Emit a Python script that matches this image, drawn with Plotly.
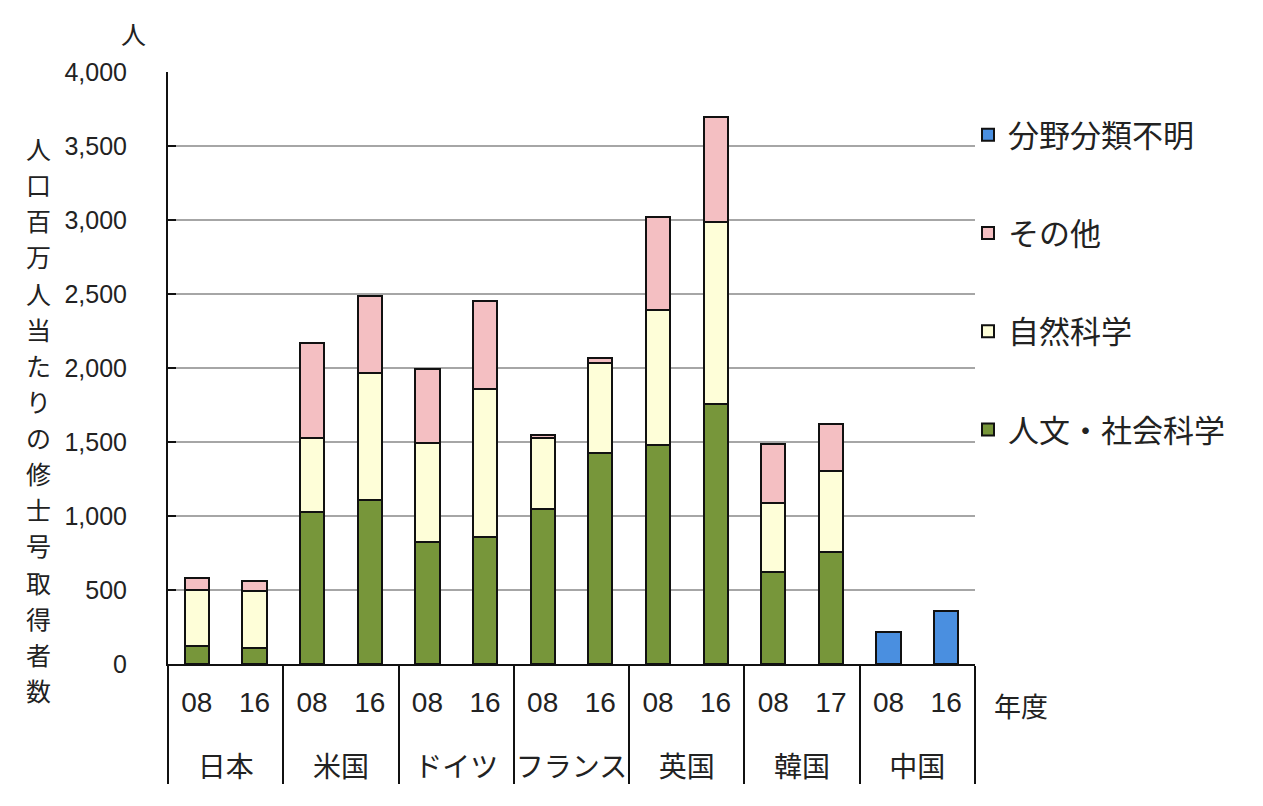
import plotly.graph_objects as go

countries = ["日本", "日本", "米国", "米国", "ドイツ", "ドイツ", "フランス", "フランス",
             "英国", "英国", "韓国", "韓国", "中国", "中国"]
years = ["08", "16", "08", "16", "08", "16", "08", "16", "08", "16", "08", "17", "08", "16"]

humanities = [120, 105, 1030, 1110, 825, 860, 1050, 1425, 1480, 1755, 625, 760, None, None]
natural = [380, 385, 500, 855, 670, 1000, 480, 610, 910, 1230, 460, 545, None, None]
other = [80, 70, 640, 520, 500, 595, 15, 35, 630, 710, 400, 315, None, None]
unknown = [None, None, None, None, None, None, None, None, None, None, None, None, 215, 355]

series = [
    ("人文・社会科学", humanities, "#77963A", 4),
    ("自然科学", natural, "#FEFED8", 3),
    ("その他", other, "#F4BFC2", 2),
    ("分野分類不明", unknown, "#4A8FE0", 1),
]

y_title = "人口百万人当たりの修士号取得者数"

FONT = "Liberation Sans, Arial, Noto Sans CJK JP"

# label padding: blank line under the years pushes the country row down
years_lbl = [y + "<br><span style='font-size:66px'>&nbsp;</span>" for y in years]

fig = go.Figure()
for name, vals, col, rank in series:
    fig.add_trace(go.Bar(
        x=[countries, years_lbl], y=vals, name=name,
        marker=dict(color=col, line=dict(color="#111111", width=2)),
        legendgroup=name, legendrank=rank,
    ))

L, R, T, B = 168, 288, 72, 142
W, H = 1263, 806
pw, ph = W - L - R, H - T - B

def px_x(x):
    return (x - L) / pw

def px_y(y):
    return (H - B - y) / ph

annotations = []
n = len(y_title)
for k, ch in enumerate(y_title):
    ypx = 148 + k * (690 - 148) / (n - 1)
    annotations.append(dict(x=px_x(38), y=px_y(ypx), xref="paper", yref="paper",
                            text=ch, showarrow=False, xanchor="center", yanchor="middle",
                            font=dict(size=25, color="#222222", family="Noto Sans CJK JP")))
annotations.append(dict(x=px_x(133), y=px_y(33), xref="paper", yref="paper", text="人",
                        showarrow=False, xanchor="center", yanchor="middle",
                        font=dict(size=25, color="#222222", family="Noto Sans CJK JP")))
annotations.append(dict(x=px_x(1021), y=px_y(705), xref="paper", yref="paper", text="年度",
                        showarrow=False, xanchor="center", yanchor="middle",
                        font=dict(size=27, color="#222222", family="Noto Sans CJK JP")))

fig.update_layout(
    width=W, height=H,
    margin=dict(l=L, r=R, t=T, b=B, pad=0),
    paper_bgcolor="white", plot_bgcolor="white",
    barmode="stack", bargap=0.58,
    font=dict(family=FONT, size=22, color="#222222"),
    showlegend=True,
    legend=dict(x=px_x(968), y=px_y(108), xanchor="left", yanchor="top",
                traceorder="grouped", tracegroupgap=55,
                font=dict(size=31, family="Noto Sans CJK JP", color="#222222"),
                itemwidth=30, bgcolor="rgba(0,0,0,0)"),
    xaxis=dict(type="multicategory", showline=True, linecolor="#111111", linewidth=2,
               showdividers=True, dividercolor="#111111", dividerwidth=2,
               tickfont=dict(size=28, family="Liberation Sans, Noto Sans CJK JP"),
               ticks="", ticklabelstandoff=12),
    yaxis=dict(range=[0, 4000], dtick=500, tickformat=",d",
               showline=True, linecolor="#111111", linewidth=2,
               showgrid=True, gridcolor="#A6A6A6", gridwidth=2,
               ticks="inside", ticklen=8, tickcolor="#111111", tickwidth=2,
               tickfont=dict(size=25, family="Liberation Sans"),
               ticklabelstandoff=34, zeroline=False),
    annotations=annotations,
)

fig.write_html("out.html")
